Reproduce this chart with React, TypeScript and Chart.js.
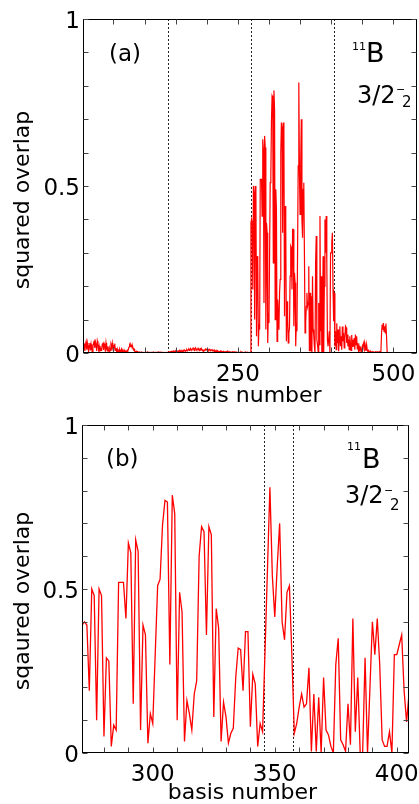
import React, { useEffect, useRef } from 'react';
import { Chart, registerables } from 'chart.js';

Chart.register(...registerables);

const FONT = '"DejaVu Sans", "Liberation Sans", Arial, sans-serif';

// ---------------- data (squared overlap vs basis number) ----------------
// basis 1..137
const overlapBlock1: number[] = [
  0.03, 0.012, 0.028, 0.006, 0.025, 0.034, 0.01, 0.03, 0.018, 0.004,
  0.022, 0.03, 0.008, 0.026, 0.012, 0.002, 0.02, 0.03, 0.035, 0.015,
  0.033, 0.025, 0.006, 0.036, 0.028, 0.01, 0.02, 0.004, 0.015, 0.008,
  0.012, 0.026, 0.031, 0.009, 0.028, 0.022, 0.004, 0.03, 0.016, 0.006,
  0.02, 0.01, 0.003, 0.014, 0.008, 0.025, 0.018, 0.03, 0.012, 0.005,
  0.022, 0.028, 0.008, 0.015, 0.004, 0.012, 0.003, 0.008, 0.005, 0.01,
  0.004, 0.007, 0.012, 0.003, 0.006, 0.002, 0.009, 0.004, 0.006, 0.003,
  0.005, 0.008, 0.006, 0.012, 0.018, 0.024, 0.02, 0.026, 0.022, 0.015,
  0.018, 0.01, 0.012, 0.006, 0.004, 0.003, 0.005, 0.002, 0.004, 0.003,
  0.002, 0.003, 0.001, 0.002, 0.003, 0.002, 0.001, 0.002, 0.001, 0.002,
  0.001, 0.002, 0.002, 0.001, 0.003, 0.002, 0.001, 0.002, 0.001, 0.002,
  0.002, 0.001, 0.002, 0.003, 0.001, 0.002, 0.001, 0.002, 0.002, 0.001,
  0.002, 0.001, 0.003, 0.002, 0.001, 0.002, 0.001, 0.002, 0.001, 0.002,
  0.002, 0.001, 0.002, 0.001, 0.002, 0.001, 0.002,
];
// basis 138..270
const overlapBlock2: number[] = [
  0.002, 0.003, 0.002, 0.004, 0.003, 0.005, 0.003, 0.004, 0.006, 0.004, 0.005, 0.003, 0.006,
  0.004, 0.007, 0.005, 0.004, 0.006, 0.008, 0.005, 0.006, 0.004, 0.007,
  0.005, 0.008, 0.006, 0.009, 0.007, 0.005, 0.008, 0.01, 0.007, 0.009,
  0.011, 0.008, 0.012, 0.014, 0.01, 0.009, 0.012, 0.015, 0.011, 0.008, 0.013, 0.016, 0.012,
  0.009, 0.011, 0.014, 0.01, 0.008, 0.012, 0.013, 0.009, 0.011, 0.007, 0.009, 0.006,
  0.008, 0.01, 0.012, 0.009, 0.011, 0.013, 0.01, 0.008, 0.011, 0.009, 0.007, 0.01, 0.008,
  0.006, 0.009, 0.007, 0.005, 0.008, 0.006, 0.004, 0.007, 0.005, 0.006, 0.004, 0.005,
  0.004, 0.006, 0.003, 0.005, 0.004, 0.003, 0.005, 0.004, 0.003, 0.004, 0.002, 0.004, 0.003,
  0.005, 0.003, 0.002, 0.004, 0.003, 0.002, 0.003, 0.004, 0.002, 0.003, 0.002, 0.003,
  0.002, 0.003, 0.002, 0.001, 0.002, 0.003, 0.002, 0.001, 0.002, 0.004, 0.002, 0.001, 0.002,
  0.001, 0.002, 0.001, 0.003, 0.001, 0.002, 0.001, 0.002, 0.001, 0.002, 0.001, 0.002,
];
// basis 271..405 (shown enlarged in panel b)
const overlapZoom: number[] = [
  0.39, 0.40, 0.39, 0.19, 0.50, 0.48, 0.10, 0.50, 0.48, 0.05,
  0.29, 0.28, 0.02, 0.085, 0.07, 0.52, 0.52, 0.52, 0.41, 0.64,
  0.61, 0.15, 0.65, 0.615, 0.07, 0.39, 0.36, 0.03, 0.12, 0.09,
  0.30, 0.51, 0.53, 0.695, 0.77, 0.765, 0.27, 0.786, 0.73, 0.10,
  0.49, 0.43, 0.035, 0.16, 0.12, 0.07, 0.18, 0.22, 0.60, 0.69,
  0.675, 0.36, 0.69, 0.665, 0.11, 0.44, 0.38, 0.035, 0.155, 0.11,
  0.03, 0.06, 0.075, 0.23, 0.32, 0.315, 0.19, 0.37, 0.37, 0.08,
  0.24, 0.21, 0.02, 0.09, 0.065, 0.31, 0.56, 0.81, 0.54, 0.415,
  0.57, 0.70, 0.40, 0.345, 0.49, 0.51, 0.30, 0.06, 0.09, 0.14,
  0.18, 0.14, 0.15, 0.26, 0.005, 0.18, 0.005, 0.17, 0.0, 0.23,
  0.07, 0.055, 0.02, 0.0, 0.27, 0.35, 0.04, 0.025, 0.005, 0.15,
  0.025, 0.41, 0.065, 0.23, 0.0, 0.0, 0.29, 0.0, 0.20, 0.40,
  0.30, 0.41, 0.27, 0.04, 0.02, 0.02, 0.065, 0.0, 0.30, 0.30,
  0.33, 0.36, 0.19, 0.095, 0.18,
];
// basis 406..538
const overlapTail: number[] = [
  0.02, 0.065, 0.01, 0.089, 0.03, 0.07, 0.005, 0.04, 0.08, 0.02,
  0.05, 0.01, 0.079, 0.035, 0.06, 0.015, 0.045, 0.08, 0.076, 0.03,
  0.055, 0.02, 0.04, 0.01, 0.05, 0.03, 0.008, 0.054, 0.02, 0.04,
  0.02, 0.045, 0.01, 0.055, 0.025, 0.05, 0.012, 0.03, 0.006, 0.02,
  0.01, 0.015, 0.005, 0.012, 0.02, 0.008, 0.028, 0.034, 0.012, 0.02,
  0.006, 0.025, 0.01, 0.004, 0.008, 0.005, 0.003, 0.006, 0.004, 0.003,
  0.002, 0.004, 0.003, 0.002, 0.003, 0.004, 0.002, 0.003, 0.004, 0.002,
  0.003, 0.002, 0.004, 0.003, 0.005, 0.06, 0.085, 0.07, 0.09, 0.065,
  0.08, 0.06, 0.088, 0.05, 0.003, 0.002, 0.001, 0.002, 0.001, 0.001,
  0.001, 0.001, 0.001, 0.001, 0.001, 0.001, 0.001, 0.001, 0.001, 0.001,
  0.001, 0.001, 0.001, 0.001, 0.001, 0.001, 0.001, 0.001, 0.001, 0.001,
  0.001, 0.001, 0.001, 0.001, 0.001, 0.001, 0.001, 0.001, 0.001, 0.001,
  0.001, 0.001, 0.001, 0.001, 0.001, 0.001, 0.001, 0.001, 0.001, 0.001,
  0.001, 0.001, 0.001,
];

const firstBasisA = 1;
const firstBasisB = 271;
const valuesA = [...overlapBlock1, ...overlapBlock2, ...overlapZoom, ...overlapTail];
const valuesB = overlapZoom;

const xRangeA = [1, 538];
const xRangeB = [271, 405];
const xTicksA = [50, 100, 150, 200, 250, 300, 350, 400, 450, 500];
const xTickLabelsA = ['250', '500'];
const xTicksB = [280, 290, 300, 310, 320, 330, 340, 350, 360, 370, 380, 390, 400];
const xTickLabelsB = ['300', '350', '400'];
const yTicks = [0, 0.1, 0.2, 0.3, 0.4, 0.5, 0.6, 0.7, 0.8, 0.9, 1];
const yTickLabels = ['0', '0.5', '1'];
const blockBoundsA = [137.5, 270.5, 404.5];
const blockBoundsB = [345.5, 357.5];

// ---------------- layout ----------------
type Txt = { text: string; size: number; dx: number; dy: number; follow?: boolean };
type PanelCfg = {
  values: number[]; first: number; xRange: number[]; xTicks: number[]; xLabels: string[];
  bounds: number[]; yTitle: string; tag: Txt; texts: Txt[];
  canvasTop: number; canvasHeight: number; padTop: number; padRight: number;
  yAxisWidth: number; xAxisHeight: number; lineWidth: number;
  yTitleDy: number; xTitleDx: number; xTitleBase: number;
};

const panelA: PanelCfg = {
  values: valuesA, first: firstBasisA, xRange: xRangeA, xTicks: xTicksA, xLabels: xTickLabelsA,
  bounds: blockBoundsA, yTitle: 'squared overlap',
  tag: { text: '(a)', size: 23, dx: 26, dy: 42 },
  texts: [
    { text: '11', size: 11, dx: -65, dy: 31 },
    { text: 'B', size: 27, dx: 0, dy: 43, follow: true },
    { text: '3/2', size: 24, dx: -60, dy: 84 },
    { text: '\u2212', size: 11, dx: -21, dy: 74 },
    { text: '2', size: 15, dx: -15, dy: 88 },
  ],
  canvasTop: 0, canvasHeight: 404, padTop: 19, padRight: 2, yAxisWidth: 83, xAxisHeight: 51,
  lineWidth: 1.2, yTitleDy: 14, xTitleDx: -3, xTitleBase: 48.5,
};

const panelB: PanelCfg = {
  values: valuesB, first: firstBasisB, xRange: xRangeB, xTicks: xTicksB, xLabels: xTickLabelsB,
  bounds: blockBoundsB, yTitle: 'sqaured overlap',
  tag: { text: '(b)', size: 23, dx: 24, dy: 41 },
  texts: [
    { text: '11', size: 11, dx: -62, dy: 25 },
    { text: 'B', size: 27, dx: 1, dy: 43, follow: true },
    { text: '3/2', size: 24, dx: -64, dy: 78 },
    { text: '\u2212', size: 11, dx: -25, dy: 68.5 },
    { text: '2', size: 15, dx: -19, dy: 85 },
  ],
  canvasTop: 404, canvasHeight: 400, padTop: 21, padRight: 10, yAxisWidth: 82, xAxisHeight: 51,
  lineWidth: 1.3, yTitleDy: 12, xTitleDx: -3, xTitleBase: 46,
};

function makeFramePlugin(cfg: PanelCfg) {
  return {
    id: 'frame',
    beforeDatasetsDraw(chart: any) {
      const { ctx, chartArea: a, scales } = chart;
      ctx.save();
      ctx.strokeStyle = '#222';
      ctx.lineWidth = 1;
      ctx.setLineDash([2, 2]);
      for (const b of cfg.bounds) {
        const x = Math.round(scales.x.getPixelForValue(b)) + 0.5;
        ctx.beginPath();
        ctx.moveTo(x, a.top);
        ctx.lineTo(x, a.bottom);
        ctx.stroke();
      }
      ctx.restore();
    },
    afterDraw(chart: any) {
      const { ctx, chartArea: a, scales } = chart;
      const L = Math.round(a.left) + 0.5;
      const R = Math.round(a.right) - 0.5;
      const T = Math.round(a.top) + 0.5;
      const B = Math.round(a.bottom) - 0.5;
      ctx.save();
      ctx.strokeStyle = '#000';
      ctx.lineWidth = 1;
      ctx.strokeRect(L, T, R - L, B - T);
      ctx.strokeStyle = '#444';
      const tl = 5;
      ctx.beginPath();
      for (const v of cfg.xTicks) {
        const x = Math.round(scales.x.getPixelForValue(v)) + 0.5;
        ctx.moveTo(x, B); ctx.lineTo(x, B - tl);
        ctx.moveTo(x, T); ctx.lineTo(x, T + tl);
      }
      for (const v of yTicks) {
        const y = Math.round(scales.y.getPixelForValue(v)) + 0.5;
        ctx.moveTo(L, y); ctx.lineTo(L + tl, y);
        ctx.moveTo(R, y); ctx.lineTo(R - tl, y);
      }
      ctx.stroke();

      ctx.fillStyle = '#000';
      ctx.textBaseline = 'alphabetic';
      ctx.textAlign = 'left';
      // panel tag
      ctx.font = `${cfg.tag.size}px ${FONT}`;
      ctx.fillText(cfg.tag.text, a.left + cfg.tag.dx, a.top + cfg.tag.dy);
      // nucleus / state labels
      let prevEnd = a.right;
      for (const t of cfg.texts) {
        ctx.font = `${t.size}px ${FONT}`;
        const x = t.follow ? prevEnd + t.dx : a.right + t.dx;
        ctx.fillText(t.text, x, a.top + t.dy);
        prevEnd = x + ctx.measureText(t.text).width;
      }
      // axis titles
      ctx.font = `22px ${FONT}`;
      ctx.textAlign = 'center';
      ctx.fillText('basis number', (a.left + a.right) / 2 + cfg.xTitleDx, a.bottom + cfg.xTitleBase);
      ctx.save();
      ctx.translate(23, (a.top + a.bottom) / 2 + cfg.yTitleDy);
      ctx.rotate(-Math.PI / 2);
      ctx.textBaseline = 'middle';
      ctx.fillText(cfg.yTitle, 0, 0);
      ctx.restore();
      ctx.restore();
    },
  };
}

function Panel({ cfg }: { cfg: PanelCfg }) {
  const ref = useRef<HTMLCanvasElement>(null);
  useEffect(() => {
    const canvas = ref.current;
    if (!canvas) return;
    const points = cfg.values.map((v, i) => ({ x: cfg.first + i, y: v }));
    const tickFont = { family: FONT, size: 23, lineHeight: 1 };
    const chart = new Chart(canvas, {
      type: 'line',
      data: {
        datasets: [{
          data: points,
          borderColor: '#ff0000',
          borderWidth: cfg.lineWidth,
          pointRadius: 0,
          fill: false,
          tension: 0,
        }],
      },
      options: {
        responsive: false,
        animation: false,
        devicePixelRatio: 1,
        events: [],
        layout: { padding: { left: 0, top: cfg.padTop, right: cfg.padRight, bottom: 0 } },
        plugins: { legend: { display: false }, tooltip: { enabled: false } },
        scales: {
          x: {
            type: 'linear',
            min: cfg.xRange[0],
            max: cfg.xRange[1],
            grid: { display: false, drawTicks: false },
            border: { display: false },
            afterBuildTicks: (s: any) => { s.ticks = cfg.xTicks.map((v) => ({ value: v })); },
            afterFit: (s: any) => {
              s.height = cfg.xAxisHeight;
              s.paddingLeft = 0; s.paddingRight = 0; s.paddingTop = 0; s.paddingBottom = 0;
            },
            ticks: {
              autoSkip: false,
              maxRotation: 0,
              minRotation: 0,
              padding: 11,
              color: '#000',
              font: tickFont,
              callback: (v: any) => (cfg.xLabels.includes(String(v)) ? String(v) : ''),
            },
          },
          y: {
            type: 'linear',
            min: 0,
            max: 1,
            grid: { display: false, drawTicks: false },
            border: { display: false },
            afterBuildTicks: (s: any) => { s.ticks = yTicks.map((v) => ({ value: v })); },
            afterFit: (s: any) => {
              s.width = cfg.yAxisWidth;
              s.paddingLeft = 0; s.paddingRight = 0; s.paddingTop = 0; s.paddingBottom = 0;
            },
            ticks: {
              autoSkip: false,
              padding: 3,
              labelOffset: 3,
              color: '#000',
              font: tickFont,
              callback: (v: any) => (yTickLabels.includes(String(v)) ? String(v) : ''),
            },
          },
        },
      },
      plugins: [makeFramePlugin(cfg)],
    } as any);
    return () => chart.destroy();
  }, [cfg]);
  return (
    <canvas
      ref={ref}
      width={419}
      height={cfg.canvasHeight}
      style={{ position: 'absolute', left: 0, top: cfg.canvasTop, width: 419, height: cfg.canvasHeight }}
    />
  );
}

export default function App() {
  return (
    <div style={{ position: 'fixed', left: 0, top: 0, width: 419, height: 804, background: '#fff', overflow: 'hidden' }}>
      <Panel cfg={panelA} />
      <Panel cfg={panelB} />
    </div>
  );
}
